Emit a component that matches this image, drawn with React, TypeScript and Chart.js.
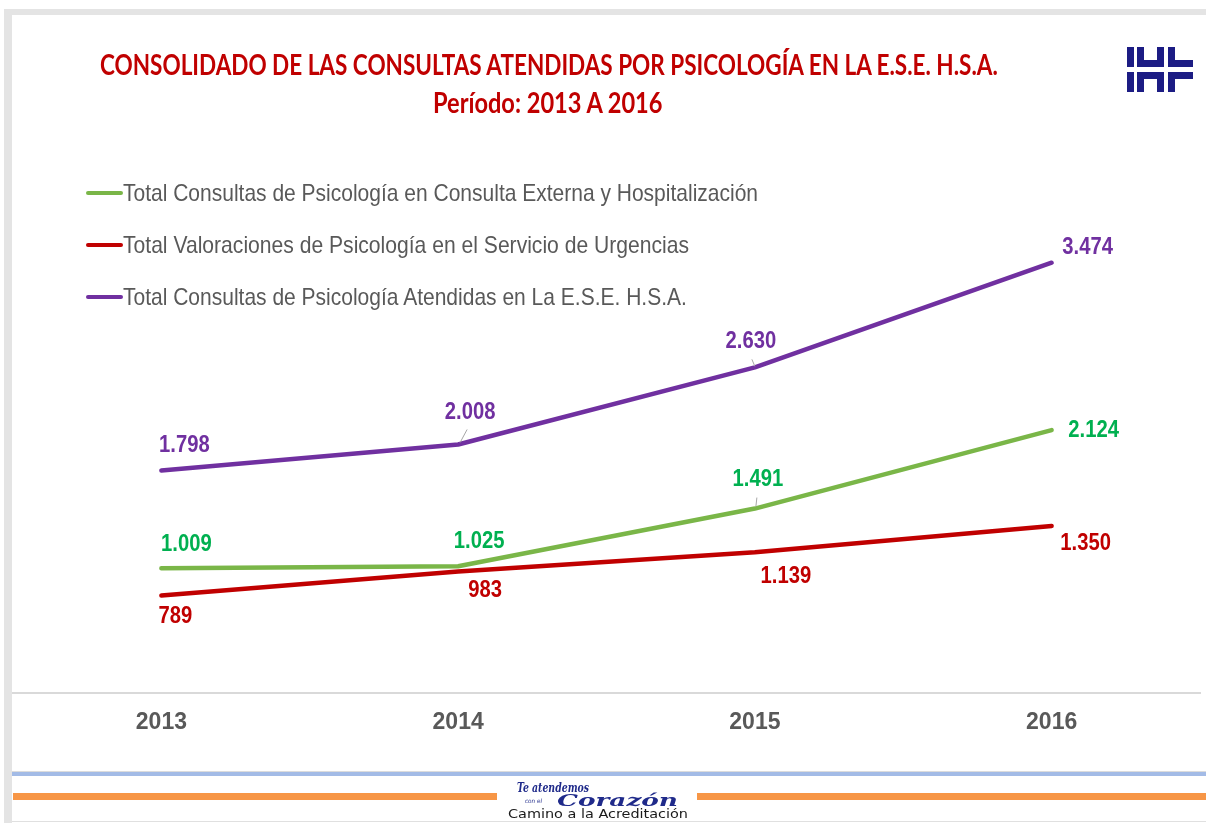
import React, { useEffect, useRef } from "react";
import { Chart, registerables } from "chart.js";

Chart.register(...registerables);

// ---- Data ----
const years = ["2013", "2014", "2015", "2016"];
const consultaExternaHosp = [1009, 1025, 1491, 2124];
const valoracionesUrgencias = [789, 983, 1139, 1350];
const totalAtendidas = [1798, 2008, 2630, 3474];

const seriesNames = [
  "Total Consultas de Psicología en Consulta Externa y Hospitalización",
  "Total Valoraciones de Psicología en el Servicio de Urgencias",
  "Total Consultas de Psicología Atendidas en La E.S.E. H.S.A.",
];
const titleLine1 = "CONSOLIDADO DE LAS CONSULTAS ATENDIDAS POR PSICOLOGÍA EN LA E.S.E. H.S.A.";
const titleLine2 = "Período: 2013 A 2016";

// ---- Styles ----
const lineColors = ["#7ab648", "#c00000", "#7030a0"];
const labelColors = ["#00b050", "#c00000", "#7030a0"];
// label offsets (dx, dy) relative to each point, per series
const labelOffsets = [
  [[25, -24], [21, -25], [3, -29], [42, 1]],
  [[14, 21], [27, 19], [31, 24], [34, 18]],
  [[23, -25], [12, -32], [-4, -26], [36, -15]],
];
const leaderLines: (number[] | null)[][] = [
  [null, null, [1, -2, 2, -11], null],
  [null, null, null, null],
  [null, [2, -2, 9, -15], [0, -1, -3, -8], null],
];

const SANS = "'Liberation Sans', Arial, sans-serif";
const TITLE_FONT = "Lato, 'Open Sans', sans-serif";

function fmt(v: number): string {
  return String(v).replace(/\B(?=(\d{3})+(?!\d))/g, ".");
}

let measureCtx: CanvasRenderingContext2D | null = null;
function measure(text: string, font: string): number {
  if (!measureCtx) measureCtx = document.createElement("canvas").getContext("2d");
  measureCtx!.font = font;
  return measureCtx!.measureText(text).width;
}

function FitText(props: {
  text: string; x: number; cy: number; w: number; size: number;
  family: string; weight?: string; italic?: boolean; color: string;
}) {
  const { text, x, cy, w, size, family, weight = "normal", italic = false, color } = props;
  const font = `${italic ? "italic " : ""}${weight} ${size}px ${family}`;
  const natural = measure(text, font) || w;
  const k = w / natural;
  return (
    <div
      style={{
        position: "absolute",
        left: x,
        top: cy - size / 2,
        height: size,
        lineHeight: `${size}px`,
        fontFamily: family,
        fontSize: size,
        fontWeight: weight as any,
        fontStyle: italic ? "italic" : "normal",
        color,
        whiteSpace: "nowrap",
        transform: `scaleX(${k})`,
        transformOrigin: "left center",
      }}
    >
      {text}
    </div>
  );
}

const valueLabelPlugin = {
  id: "valueLabels",
  afterDatasetsDraw(chart: any) {
    const ctx = chart.ctx as CanvasRenderingContext2D;
    chart.data.datasets.forEach((ds: any, di: number) => {
      const meta = chart.getDatasetMeta(di);
      meta.data.forEach((pt: any, i: number) => {
        const off = labelOffsets[di][i];
        const lead = leaderLines[di][i];
        ctx.save();
        if (lead) {
          ctx.strokeStyle = "#a6a6a6";
          ctx.lineWidth = 1;
          ctx.beginPath();
          ctx.moveTo(pt.x + lead[0], pt.y + lead[1]);
          ctx.lineTo(pt.x + lead[2], pt.y + lead[3]);
          ctx.stroke();
        }
        ctx.translate(pt.x + off[0], pt.y + off[1]);
        ctx.scale(0.88, 1);
        ctx.font = `bold 23px ${SANS}`;
        ctx.fillStyle = labelColors[di];
        ctx.textAlign = "center";
        ctx.textBaseline = "middle";
        ctx.fillText(fmt(ds.data[i]), 0, 0);
        ctx.restore();
      });
    });
  },
};

function Logo() {
  const c = "#1c1c84";
  const r = (l: number, t: number, w: number, h: number) => (
    <div style={{ position: "absolute", left: l, top: t, width: w, height: h, background: c }} />
  );
  return (
    <>
      {r(1127, 47, 7, 20)}
      {r(1137, 47, 7, 20)}
      {r(1157, 47, 7, 20)}
      {r(1137, 60, 27, 7)}
      {r(1168, 47, 7, 20)}
      {r(1168, 60, 25, 7)}
      {r(1127, 72, 7, 20)}
      {r(1137, 72, 7, 20)}
      {r(1157, 72, 7, 20)}
      {r(1137, 72, 27, 7)}
      {r(1168, 72, 7, 20)}
      {r(1168, 72, 25, 7)}
    </>
  );
}

export default function App() {
  const canvasRef = useRef<HTMLCanvasElement | null>(null);

  useEffect(() => {
    const canvas = canvasRef.current;
    if (!canvas) return;
    const chart = new Chart(canvas, {
      type: "line",
      data: {
        labels: years,
        datasets: [
          { label: seriesNames[0], data: consultaExternaHosp, borderColor: lineColors[0], backgroundColor: lineColors[0] },
          { label: seriesNames[1], data: valoracionesUrgencias, borderColor: lineColors[1], backgroundColor: lineColors[1] },
          { label: seriesNames[2], data: totalAtendidas, borderColor: lineColors[2], backgroundColor: lineColors[2] },
        ],
      },
      options: {
        responsive: false,
        animation: false,
        devicePixelRatio: 1,
        clip: false as any,
        layout: { padding: { left: 13, right: 6, top: 197.5, bottom: 69.6 } },
        elements: {
          line: { borderWidth: 4.5, tension: 0, borderCapStyle: "round", borderJoinStyle: "round" },
          point: { radius: 0, hoverRadius: 0 },
        },
        plugins: {
          legend: { display: false },
          title: { display: false },
          tooltip: { enabled: false },
        },
        scales: {
          x: {
            type: "category",
            offset: true,
            grid: { display: false, drawTicks: false },
            border: { display: true, color: "#d9d9d9", width: 2 },
            ticks: {
              color: "#595959",
              padding: 15,
              font: { family: SANS, size: 23, weight: "bold" },
            },
            afterFit: (scale: any) => {
              scale.height = 60;
            },
          },
          y: {
            display: false,
            min: 0,
            max: 4000,
          },
        },
      },
      plugins: [valueLabelPlugin],
    });
    return () => chart.destroy();
  }, []);

  const legendRows = [193, 245, 297];
  const legendWidths = [635, 566, 565];

  return (
    <div
      style={{
        position: "fixed",
        left: 0,
        top: 0,
        width: 1206,
        height: 823,
        background: "#ffffff",
        overflow: "hidden",
      }}
    >
      {/* frame */}
      <div style={{ position: "absolute", left: 4, top: 9, width: 1202, height: 6, background: "#e4e4e4" }} />
      <div style={{ position: "absolute", left: 4, top: 9, width: 8, height: 814, background: "#e4e4e4" }} />

      <canvas ref={canvasRef} width={1206} height={823} style={{ position: "absolute", left: 0, top: 0 }} />

      {/* title */}
      <FitText text={titleLine1} x={100} cy={64} w={900} size={28} family={TITLE_FONT} weight="bold" color="#c00000" />
      <FitText text={titleLine2} x={433} cy={102} w={231} size={28} family={TITLE_FONT} weight="bold" color="#c00000" />

      <Logo />

      {/* legend */}
      {seriesNames.map((name, i) => (
        <React.Fragment key={name}>
          <div
            style={{
              position: "absolute",
              left: 86,
              top: legendRows[i] - 2,
              width: 37,
              height: 4,
              background: lineColors[i],
              borderRadius: 2,
            }}
          />
          <FitText text={name} x={123} cy={legendRows[i]} w={legendWidths[i]} size={24} family={SANS} color="#595959" />
        </React.Fragment>
      ))}

      {/* footer */}
      <div style={{ position: "absolute", left: 12, top: 771, width: 1194, height: 1, background: "#dcdcdc" }} />
      <div style={{ position: "absolute", left: 12, top: 772, width: 1194, height: 4, background: "#a3bbe6" }} />
      <div style={{ position: "absolute", left: 13, top: 793, width: 484, height: 7, background: "#f79646" }} />
      <div style={{ position: "absolute", left: 697, top: 793, width: 509, height: 7, background: "#f79646" }} />
      <div style={{ position: "absolute", left: 12, top: 821, width: 1194, height: 1, background: "#e0e0e0" }} />
      <FitText text="Te atendemos" x={517} cy={788} w={72} size={12} family="'DejaVu Serif', serif" weight="bold" italic color="#1f2a8a" />
      <FitText text="con el" x={525} cy={801} w={17} size={6} family="'DejaVu Sans', sans-serif" italic color="#1f2a8a" />
      <FitText text="Corazón" x={557} cy={801} w={121} size={16} family="'DejaVu Serif', serif" weight="bold" italic color="#1f2a8a" />
      <FitText text="Camino a la Acreditación" x={508} cy={814} w={180} size={12} family="'DejaVu Sans', sans-serif" color="#1a1a1a" />
    </div>
  );
}
